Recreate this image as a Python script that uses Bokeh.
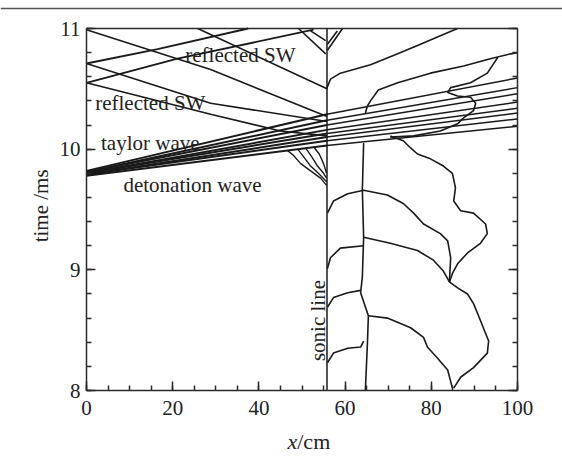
import math
from bokeh.plotting import figure
from bokeh.models import Range1d, FixedTicker, Label, LinearAxis
from bokeh.embed import file_html
from bokeh.resources import INLINE

# ---------------- data: x in cm, time in ms ----------------
sonic_x = 55.8

# detonation front + taylor-wave fan: start at x=0, cross the sonic line, end at x=100
fan_t_start = [9.78, 9.79, 9.79, 9.80, 9.80, 9.81, 9.81, 9.82]
fan_t_sonic = [10.03, 10.07, 10.10, 10.13, 10.16, 10.20, 10.24, 10.29]
fan_t_end = [10.19, 10.25, 10.30, 10.34, 10.39, 10.46, 10.51, 10.59]

# left-running reflected shock waves (left of the sonic line)
refl_left_x = [[0, 28.8, 55.8], [0, 28.8, 55.8], [0, 28.8, 45.0, 55.8], [25.8, 55.8]]
refl_left_t = [[10.99, 10.66, 10.27], [10.71, 10.38, 10.23], [10.55, 10.29, 10.15, 10.11], [11.0, 10.50]]

# right-running waves reflected from the closed end x=0
refl_right_x = [[0, 16.5, 37.5], [0, 21.1, 52.7]]
refl_right_t = [[10.71, 10.83, 11.0], [10.55, 10.75, 10.99]]

# short branches meeting the sonic line near the top
branch_x = [[49.2, 55.5], [52.0, 55.5], [59.4, 55.9], [58.2, 55.9]]
branch_t = [[11.0, 10.79], [10.98, 10.90], [11.0, 10.82], [10.98, 10.87]]

# characteristics merging into the sonic line under the fan
tail_x = [[46.6, 48.0, 49.7, 52.0, 54.3, 55.7],
          [49.0, 50.3, 52.0, 53.8, 55.7],
          [50.8, 52.2, 53.6, 55.0, 55.7],
          [52.7, 54.0, 55.0, 55.7]]
tail_t = [[9.99, 9.95, 9.88, 9.82, 9.76, 9.70],
          [10.00, 9.94, 9.86, 9.80, 9.73],
          [10.01, 9.94, 9.86, 9.80, 9.76],
          [10.02, 9.96, 9.88, 9.80]]

# right of the sonic line, above the fan
upper_x = [55.7, 56.6, 58.9, 65.9, 72.2, 76.8, 82.1, 86.1]
upper_t = [10.50, 10.58, 10.63, 10.70, 10.79, 10.86, 10.94, 11.0]
second_x = [64.7, 65.2, 65.9, 67.7, 72.2, 79.8, 87.5, 93.7, 98.4, 100]
second_t = [10.30, 10.36, 10.40, 10.49, 10.55, 10.63, 10.69, 10.75, 10.79, 10.80]
loop_x = [95.4, 93.0, 89.1, 84.5, 83.8, 86.1, 89.1, 90.3, 89.8, 87.5, 86.1, 82.1, 75.9, 70.5]
loop_t = [10.76, 10.63, 10.55, 10.51, 10.47, 10.44, 10.43, 10.38, 10.32, 10.26, 10.21, 10.15, 10.11, 10.10]

# right of the sonic line, below the fan
drop_x = [70.5, 73.5, 75.2, 76.8, 79.8, 82.8, 84.9, 85.6, 85.2, 86.8, 89.8, 92.6, 93.0, 91.4, 88.4, 86.1, 84.9, 84.2]
drop_t = [10.11, 10.07, 10.01, 9.96, 9.92, 9.86, 9.80, 9.68, 9.57, 9.49, 9.47, 9.38, 9.30, 9.22, 9.14, 9.05, 8.97, 8.90]
vert_x = [64.3, 64.0, 64.3, 64.0, 63.6, 65.4, 65.2, 64.7]
vert_t = [10.05, 9.66, 9.27, 8.94, 8.81, 8.62, 8.41, 8.0]
c1_x = [55.9, 57.3, 60.6, 64.3, 69.8, 73.5, 75.9, 78.2, 82.1, 83.8, 84.5, 84.2]
c1_t = [9.47, 9.57, 9.63, 9.66, 9.62, 9.55, 9.47, 9.38, 9.30, 9.24, 9.10, 8.90]
c2a_x = [55.9, 56.6, 58.9, 64.3]
c2a_t = [9.01, 9.10, 9.18, 9.20]
c2b_x = [64.3, 70.5, 76.8, 80.5, 82.8, 84.2, 86.1, 88.4, 89.8, 91.4, 93.3, 93.0, 89.8, 86.8, 85.2]
c2b_t = [9.27, 9.22, 9.16, 9.08, 8.99, 8.90, 8.85, 8.80, 8.72, 8.58, 8.41, 8.31, 8.19, 8.11, 8.02]
c3a_x = [55.9, 57.3, 60.6, 63.6]
c3a_t = [8.69, 8.77, 8.81, 8.83]
c3b_x = [65.4, 69.8, 75.2, 78.2, 79.1, 81.4, 83.8, 84.9]
c3b_t = [8.62, 8.60, 8.52, 8.44, 8.36, 8.27, 8.17, 8.02]
c4_x = [55.9, 57.3, 60.6, 63.6, 64.3]
c4_t = [8.23, 8.31, 8.35, 8.36, 8.41]

x_ticks = [0, 20, 40, 60, 80, 100]
t_ticks = [8, 9, 10, 11]

INK = "#1a1a1a"
SERIF = "Liberation Serif"

# the frame spans the whole canvas; axes sit at fixed positions inside it
PX_PER_CM = 4.31
PX_PER_MS = 120.67
X_MIN = -86 / PX_PER_CM
X_MAX = X_MIN + 562 / PX_PER_CM
T_MAX = 11 + 28 / PX_PER_MS
T_MIN = T_MAX - 456 / PX_PER_MS

p = figure(width=562, height=456, x_range=Range1d(X_MIN, X_MAX), y_range=Range1d(T_MIN, T_MAX),
           x_axis_location=None, y_axis_location=None, min_border=0,
           output_backend="svg", toolbar_location=None)
p.grid.visible = False
p.outline_line_color = None
p.background_fill_color = "white"
p.border_fill_color = "white"

xt = FixedTicker(ticks=x_ticks, minor_ticks=list(range(0, 101, 5)))
yt = FixedTicker(ticks=t_ticks, minor_ticks=[8 + 0.2 * i for i in range(16)])

bottom_axis = LinearAxis(ticker=xt, fixed_location=8, bounds=(0, 100))
left_axis = LinearAxis(ticker=yt, fixed_location=0, bounds=(8, 11))
right_axis = LinearAxis(ticker=yt, fixed_location=100, bounds=(8, 11),
                        major_label_overrides={k: "" for k in t_ticks})
top_axis = LinearAxis(ticker=FixedTicker(ticks=[]), fixed_location=11, bounds=(0, 100))
p.add_layout(bottom_axis, "below")
p.add_layout(left_axis, "left")
p.add_layout(right_axis, "right")
p.add_layout(top_axis, "above")

for ax in [bottom_axis, left_axis, right_axis, top_axis]:
    ax.major_tick_in = 9
    ax.major_tick_out = 0
    ax.minor_tick_in = 5
    ax.minor_tick_out = 0
    ax.axis_line_color = "#2a2a2a"
    ax.axis_line_width = 1.5
    ax.major_tick_line_color = "#2a2a2a"
    ax.major_tick_line_width = 1.5
    ax.minor_tick_line_color = "#2a2a2a"
    ax.minor_tick_line_width = 1.5
    ax.major_label_text_font = SERIF
    ax.major_label_text_font_size = "21px"
    ax.major_label_text_color = "#222"
bottom_axis.major_label_standoff = 10
left_axis.major_label_standoff = 6

lw = 1.6
# detonation front and fan: dense wedge up to the sonic line, thinner beyond it
for t0, t1, t2 in zip(fan_t_start, fan_t_sonic, fan_t_end):
    p.line([0, sonic_x], [t0, t1], line_color=INK, line_width=2.0)
    p.line([sonic_x, 100], [t1, t2], line_color=INK, line_width=1.5)

p.multi_line(refl_left_x, refl_left_t, line_color=INK, line_width=lw)
p.multi_line(refl_right_x, refl_right_t, line_color=INK, line_width=1.8)
p.multi_line(branch_x, branch_t, line_color=INK, line_width=lw)
p.multi_line(tail_x, tail_t, line_color=INK, line_width=1.4)

# sonic line
p.line([sonic_x, sonic_x], [8, 11], line_color=INK, line_width=1.5)

for xs, ts in [(upper_x, upper_t), (second_x, second_t), (loop_x, loop_t), (drop_x, drop_t),
               (vert_x, vert_t), (c1_x, c1_t), (c2a_x, c2a_t), (c2b_x, c2b_t),
               (c3a_x, c3a_t), (c3b_x, c3b_t), (c4_x, c4_t)]:
    p.line(xs, ts, line_color=INK, line_width=lw)

# annotations
def note(x, y, text, angle=0.0, style="normal", align="center", size="21px"):
    p.add_layout(Label(x=x, y=y, text=text, angle=angle, text_font=SERIF, text_font_size=size,
                       text_font_style=style, text_color="#222", text_align=align,
                       text_baseline="middle"))

note(35.7, 10.78, "reflected SW")
note(14.8, 10.38, "reflected SW")
note(14.8, 10.05, "taylor wave")
note(24.6, 9.70, "detonation wave")
note(53.6, 8.58, "sonic line", angle=math.pi / 2)

# axis titles
note(-10.67, 9.53, "time /ms", angle=math.pi / 2)
note(48.9, 7.58, "x", style="italic", align="right", size="22px")
note(48.9, 7.58, "/cm", align="left", size="22px")

# rule across the top of the page
p.line([X_MIN, X_MAX], [11.166, 11.166], line_color="#555", line_width=1.5)

open("out.html", "w").write(file_html(p, INLINE))
